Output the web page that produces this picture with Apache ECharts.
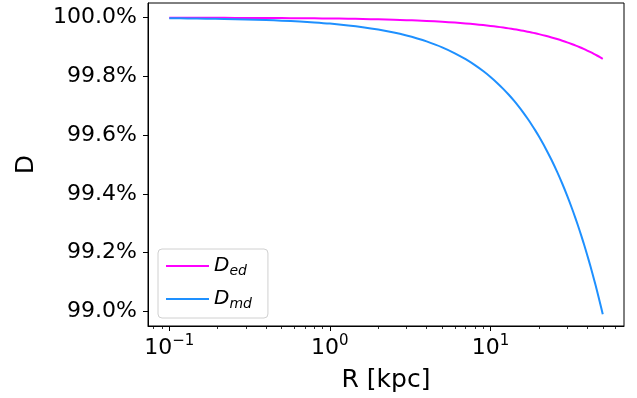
<!DOCTYPE html>
<html><head><meta charset="utf-8">
<script src="https://cdn.jsdelivr.net/npm/echarts@6/dist/echarts.min.js"></script>
<style>html,body{margin:0;padding:0;background:#fff}#c{width:637px;height:398px}</style>
</head><body><div id="c"></div>
<script>
// Radius values [kpc]
const R = [0.1, 0.13, 0.17, 0.22, 0.3, 0.4, 0.5, 0.65, 0.8, 1, 1.3, 1.6, 2, 2.5, 3, 3.5, 4, 5, 6, 7, 8, 9, 10, 11, 12, 13, 14, 15, 16, 17, 18, 19, 20, 22, 24, 26, 28, 30, 32, 34, 36, 38, 40, 42, 44, 46, 48, 50];
// D_ed (%)
const Ded = [99.9997, 99.9996, 99.9995, 99.9994, 99.9992, 99.9989, 99.9986, 99.9982, 99.9978, 99.9972, 99.9964, 99.9955, 99.9944, 99.993, 99.9916, 99.9902, 99.9888, 99.986, 99.9832, 99.9804, 99.9776, 99.9748, 99.972, 99.9692, 99.9664, 99.9636, 99.9608, 99.958, 99.9552, 99.9524, 99.9496, 99.9468, 99.944, 99.9384, 99.9328, 99.9272, 99.9216, 99.916, 99.9104, 99.9048, 99.8992, 99.8936, 99.888, 99.8824, 99.8768, 99.8712, 99.8656, 99.86];
// D_md (%)
const Dmd = [99.998, 99.9974, 99.9966, 99.9956, 99.9939, 99.9919, 99.9899, 99.9869, 99.9838, 99.9798, 99.9737, 99.9677, 99.9596, 99.9495, 99.9394, 99.9293, 99.9192, 99.899, 99.8788, 99.8586, 99.8384, 99.8182, 99.798, 99.7778, 99.7576, 99.7374, 99.7172, 99.697, 99.6768, 99.6566, 99.6364, 99.6162, 99.596, 99.5556, 99.5152, 99.4748, 99.4344, 99.394, 99.3536, 99.3132, 99.2728, 99.2324, 99.192, 99.1516, 99.1112, 99.0708, 99.0304, 98.99];
const xMajorTicks = [0.1, 1, 10];
const xMajorLabels = ['−1', '0', '1'];
const xMinorTicks = [0.08, 0.09, 0.2, 0.3, 0.4, 0.5, 0.6, 0.7, 0.8, 0.9, 2, 3, 4, 5, 6, 7, 8, 9, 20, 30, 40, 50, 60];
const yTicks = [99.0, 99.2, 99.4, 99.6, 99.8, 100.0];

const FONT = 'DejaVu Sans';
const chart = echarts.init(document.getElementById('c'), null, {renderer: 'canvas'});
const xMin = 0.0737, xMax = 67.8;
chart.setOption({
  animation: false,
  backgroundColor: '#fff',
  grid: {left: 148, right: 13, top: 3, bottom: 70, show: true, borderColor: '#000', borderWidth: 1, backgroundColor: 'transparent'},
  legend: {
    left: 158, top: 249, orient: 'vertical',
    backgroundColor: 'rgba(255,255,255,0.8)', borderColor: '#d0d0d0', borderWidth: 1, borderRadius: 4,
    padding: [7, 16, 7, 8], itemGap: 11, itemWidth: 43, itemHeight: 2, icon: 'rect',
    textStyle: {fontFamily: FONT, color: '#000',
      rich: {i: {fontFamily: FONT, fontStyle: 'italic', fontSize: 20, color: '#000'},
             s: {fontFamily: FONT, fontStyle: 'italic', fontSize: 14, color: '#000', verticalAlign: 'top', padding: [10, 0, 0, 0]}}},
    itemStyle: {borderWidth: 0},
    formatter: function (n) { return n === 'ed' ? '{i|D}{s|ed}' : '{i|D}{s|md}'; },
    data: [{name: 'ed', itemStyle: {color: '#ff00ff'}}, {name: 'md', itemStyle: {color: '#1e90ff'}}]
  },
  xAxis: [{
    type: 'log', logBase: 10, min: xMin, max: xMax, gridIndex: 0, position: 'bottom',
    name: 'R [kpc]', nameLocation: 'middle', nameGap: 42,
    nameTextStyle: {fontFamily: FONT, fontSize: 25, color: '#000'},
    axisLine: {show: true, lineStyle: {color: '#000', width: 1}},
    splitLine: {show: false},
    axisTick: {show: true, inside: false, length: 5, lineStyle: {color: '#000'}, customValues: xMajorTicks},
    axisLabel: {show: true, margin: 8, customValues: xMajorTicks,
      formatter: function (v) { const i = xMajorTicks.findIndex(t => Math.abs(t - v) / t < 1e-6); return i < 0 ? '' : '{b|10}{s|' + xMajorLabels[i] + '}'; },
      rich: {b: {fontFamily: FONT, fontSize: 22, color: '#000', verticalAlign: 'bottom'},
             s: {fontFamily: FONT, fontSize: 15, color: '#000', verticalAlign: 'bottom', padding: [0, 0, 10, 0]}}}
  }, {
    type: 'log', logBase: 10, min: xMin, max: xMax, gridIndex: 0, position: 'bottom',
    axisLine: {show: false}, splitLine: {show: false}, axisLabel: {show: false},
    axisTick: {show: true, inside: false, length: 3, lineStyle: {color: '#000', width: 0.8}, customValues: xMinorTicks}
  }],
  yAxis: {
    type: 'value', min: 98.95, max: 100.05,
    name: 'D', nameLocation: 'middle', nameGap: 109, nameRotate: 90,
    nameTextStyle: {fontFamily: FONT, fontSize: 25, color: '#000'},
    axisLine: {show: true, lineStyle: {color: '#000', width: 1}},
    splitLine: {show: false},
    axisTick: {show: true, inside: false, length: 5, lineStyle: {color: '#000'}, customValues: yTicks},
    axisLabel: {show: true, margin: 11, customValues: yTicks, fontFamily: FONT, fontSize: 22, color: '#000',
      formatter: function (v) { return v.toFixed(1) + '%'; }}
  },
  series: [
    {name: 'ed', type: 'line', xAxisIndex: 0, showSymbol: false, symbol: 'none', smooth: 0.3,
     lineStyle: {color: '#ff00ff', width: 2}, itemStyle: {color: '#ff00ff'},
     data: R.map((r, i) => [r, Ded[i]])},
    {name: 'md', type: 'line', xAxisIndex: 0, showSymbol: false, symbol: 'none', smooth: 0.3,
     lineStyle: {color: '#1e90ff', width: 2}, itemStyle: {color: '#1e90ff'},
     data: R.map((r, i) => [r, Dmd[i]])}
  ]
});
</script></body></html>
